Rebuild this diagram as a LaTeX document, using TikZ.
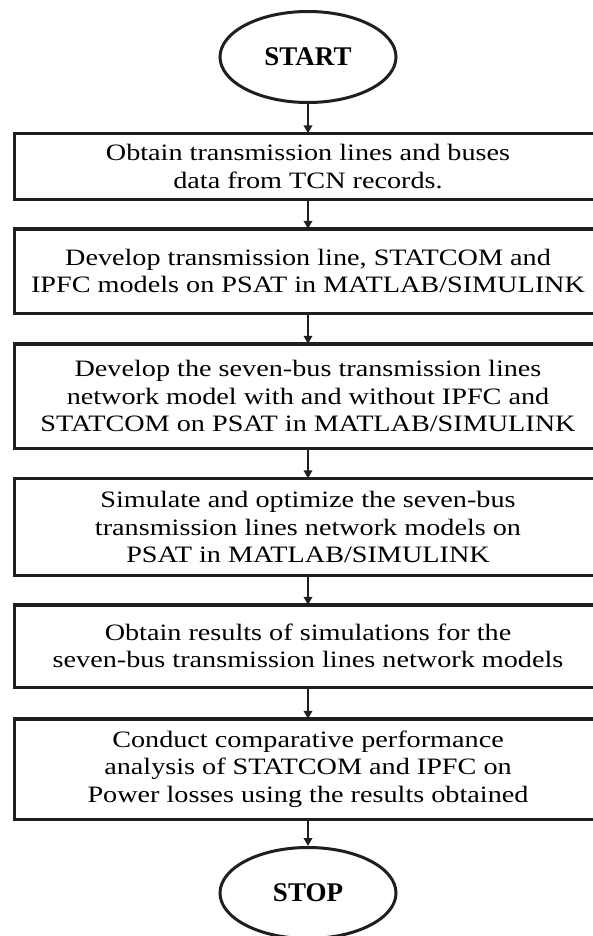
\documentclass[tikz,border=0pt]{standalone}
\usepackage{fontspec}
\setmainfont{Liberation Serif}
\newfontfamily\stepfont[FakeStretch=1.2]{Liberation Serif}
\usetikzlibrary{
  arrows.meta,
  shapes.geometric
}
\tikzset{
  flow/.style={-{Triangle[length=8pt,width=8.5pt]},line width=2.4pt,draw=black!88},
  terminal/.style={
    ellipse,
    draw=black!88,
    line width=3pt,
    minimum width=176pt,
    minimum height=91pt,
    inner sep=0pt,
    font=\fontsize{27}{30}\selectfont\bfseries
  },
  stepbox/.style={
    align=center,
    inner sep=0pt,
    font=\stepfont\fontsize{23.5}{27.5}\selectfont
  },
  frame/.style={draw=black!88,line width=3.4pt}
}

\begin{document}
\begin{tikzpicture}[x=1pt,y=1pt]
  \useasboundingbox (0,0) rectangle (593,-936);
  \coordinate (L) at (14.5,0);
  \coordinate (R) at (612,0);

  \node[terminal] (start) at (308,-57) {START};
  \node[terminal] (stop) at (308,-893) {STOP};

  \foreach \n/\y/\h/\txt in {
    s1/-166.5/66/{Obtain transmission lines and buses\\data from TCN records.},
    s2/-271/84/{Develop transmission line, STATCOM and\\IPFC models on PSAT in MATLAB/SIMULINK},
    s3/-396/104/{Develop the seven-bus transmission lines\\network model with and without IPFC and\\STATCOM on PSAT in MATLAB/SIMULINK},
    s4/-527/97/{Simulate and optimize the seven-bus\\transmission lines network models on\\PSAT in MATLAB/SIMULINK},
    s5/-646/82/{Obtain results of simulations for the\\seven-bus transmission lines network models},
    s6/-769/100/{Conduct comparative performance\\analysis of STATCOM and IPFC on\\Power losses using the results obtained}} {
    \node[stepbox,minimum height=\h pt] (\n) at (308,\y) {\txt};
    \draw[frame] (\n.north -| L) rectangle (\n.south -| R);
  }

  \foreach \a/\b in {start/s1,s1/s2,s2/s3,s3/s4,s4/s5,s5/s6,s6/stop}
    \draw[flow] (\a.south) -- (\b.north);
\end{tikzpicture}
\end{document}
